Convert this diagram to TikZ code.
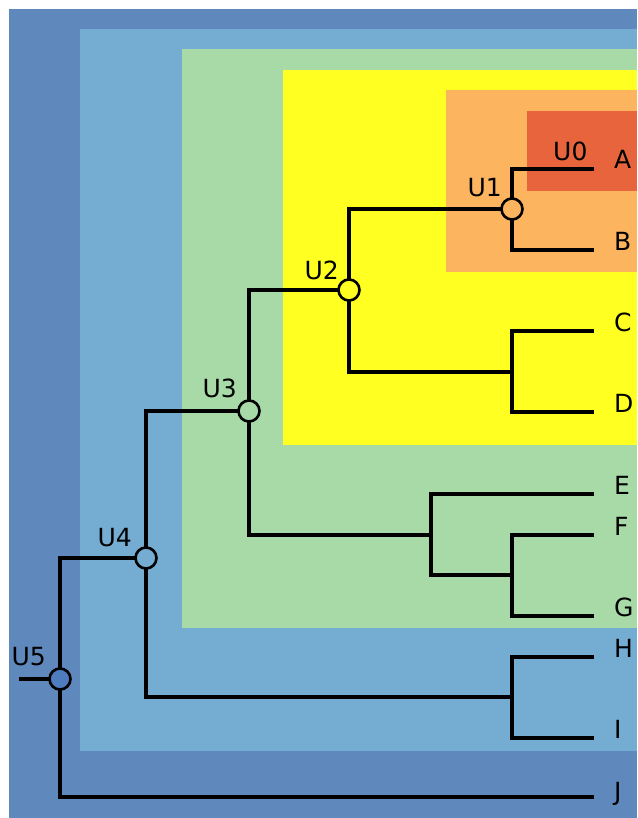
\documentclass[tikz,border=0pt]{standalone}
\usepackage{fontspec}
\setmainfont{DejaVu Sans}
\definecolor{cfive}{HTML}{5F88BD}
\definecolor{cfour}{HTML}{74ACD2}
\definecolor{cthree}{HTML}{A8DAA8}
\definecolor{ctwo}{HTML}{FFFF22}
\definecolor{cone}{HTML}{FDB45F}
\definecolor{czero}{HTML}{E8643C}
\definecolor{cfivedot}{HTML}{4D7CBF}
\tikzset{
  branch/.style={line width=3.6pt, black},
  ucirc/.style={circle, draw=black, line width=2.6pt, minimum size=21pt, inner sep=0pt},
  leaflbl/.style={anchor=base west, inner sep=0pt, font=\fontsize{25}{30}\selectfont},
  ulbl/.style={anchor=base east, inner sep=0pt, font=\fontsize{25}{30}\selectfont},
}
\begin{document}
\begin{tikzpicture}[x=1pt,y=-1pt]
\useasboundingbox (0,0) rectangle (637,818);
% nested regions
\fill[cfive] (9,9) rectangle (637,818);
\fill[cfour] (80,29) rectangle (637,751);
\fill[cthree] (182,49) rectangle (637,628);
\fill[ctwo] (283,70) rectangle (637,445);
\fill[cone] (446,90) rectangle (637,272);
\fill[czero] (527,111) rectangle (637,191);
% coordinates
\coordinate (A) at (594,169);
\coordinate (B) at (594,250);
\coordinate (C) at (594,331);
\coordinate (D) at (594,412);
\coordinate (E) at (594,494);
\coordinate (F) at (594,535);
\coordinate (G) at (594,616);
\coordinate (H) at (594,657);
\coordinate (I) at (594,738);
\coordinate (J) at (594,797);
\coordinate (p1) at (512,209);
\coordinate (p2) at (349,290);
\coordinate (p3) at (249,411);
\coordinate (p4) at (146,558);
\coordinate (p5) at (60,679);
\coordinate (cd) at (512,372);
\coordinate (efg) at (431,535);
\coordinate (fg) at (512,575);
\coordinate (hi) at (512,697);
\coordinate (stub) at (19,679);
% branches
\draw[branch] (A) -| (p1) |- (B);
\draw[branch] (C) -| (cd) |- (D);
\draw[branch] (p1) -| (p2) |- (cd);
\draw[branch] (F) -| (fg) |- (G);
\draw[branch] (E) -| (efg) |- (fg);
\draw[branch] (p2) -| (p3) |- (efg);
\draw[branch] (H) -| (hi) |- (I);
\draw[branch] (p3) -| (p4) |- (hi);
\draw[branch] (p4) -| (p5) |- (J);
\draw[branch] (stub) -- (p5);
% internal nodes
\node[ucirc, fill=cone] (U1) at (p1) {};
\node[ucirc, fill=ctwo] (U2) at (p2) {};
\node[ucirc, fill=cthree] (U3) at (p3) {};
\node[ucirc, fill=cfour] (U4) at (p4) {};
\node[ucirc, fill=cfivedot] (U5) at (p5) {};
% labels
\node[anchor=base west, inner sep=0pt, font=\fontsize{25}{30}\selectfont] (lU0) at (553,161) {U0};
\node[ulbl] (lU1) at (502,197) {U1};
\node[ulbl] (lU2) at (339,279) {U2};
\node[ulbl] (lU3) at (237,397) {U3};
\node[ulbl] (lU4) at (132,546) {U4};
\node[ulbl] (lU5) at (46,665) {U5};
\node[leaflbl] (lA) at (614,169) {A};
\node[leaflbl] (lB) at (614,250) {B};
\node[leaflbl] (lC) at (614,331) {C};
\node[leaflbl] (lD) at (614,412) {D};
\node[leaflbl] (lE) at (614,494) {E};
\node[leaflbl] (lF) at (614,535) {F};
\node[leaflbl] (lG) at (614,616) {G};
\node[leaflbl] (lH) at (614,657) {H};
\node[leaflbl] (lI) at (614,738) {I};
\node[leaflbl] (lJ) at (614,800) {J};
\end{tikzpicture}
\end{document}
